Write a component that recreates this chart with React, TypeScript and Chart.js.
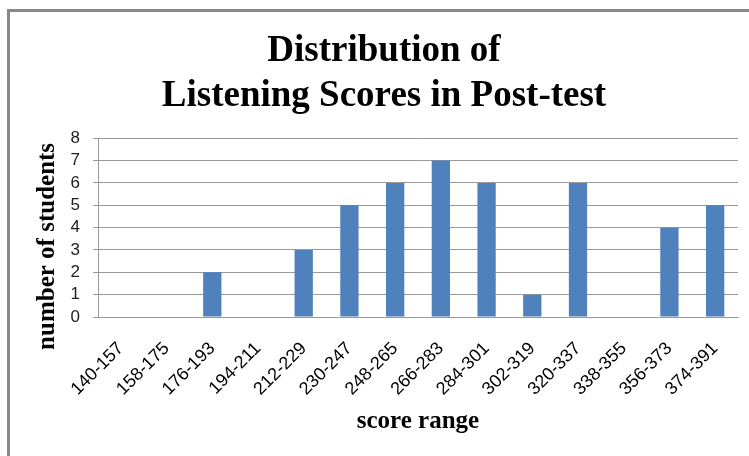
import React, { useEffect, useRef } from "react";
import { Chart, registerables } from "chart.js";

Chart.register(...registerables);

const categories = [
  "140-157", "158-175", "176-193", "194-211", "212-229", "230-247", "248-265",
  "266-283", "284-301", "302-319", "320-337", "338-355", "356-373", "374-391",
];
const students = [0, 0, 2, 0, 3, 5, 6, 7, 6, 1, 6, 0, 4, 5];
const titleLines = ["Distribution of", "Listening Scores in Post-test"];
const yTitle = "number of students";
const xTitle = "score range";

export default function App() {
  const ref = useRef<HTMLCanvasElement | null>(null);
  useEffect(() => {
    if (!ref.current) return;
    const chart = new Chart(ref.current, {
      type: "bar",
      data: {
        labels: categories,
        datasets: [
          {
            data: students,
            backgroundColor: "#4F81BD",
            borderWidth: 0,
            barPercentage: 0.4,
            categoryPercentage: 1,
          },
        ],
      },
      options: {
        animation: false,
        responsive: false,
        maintainAspectRatio: false,
        layout: { padding: { left: 30, right: 11, top: 0, bottom: 0 } },
        plugins: {
          legend: { display: false },
          tooltip: { enabled: false },
          title: {
            display: true,
            text: titleLines,
            color: "#000",
            font: { family: "'Liberation Serif', serif", size: 37, weight: "bold", lineHeight: 1.22 },
            padding: { top: 29, bottom: 19 },
          },
        },
        scales: {
          x: {
            afterFit: (s: any) => {
              s.height = 139;
              s.paddingLeft = 0;
              s.paddingRight = 0;
            },
            grid: { display: false, drawTicks: false },
            border: { color: "#999", width: 1 },
            ticks: {
              color: "#000",
              font: { family: "'Liberation Sans', sans-serif", size: 18 },
              maxRotation: 45,
              minRotation: 45,
              padding: 21,
              autoSkip: false,
            },
            title: {
              display: true,
              text: xTitle,
              color: "#000",
              font: { family: "'Liberation Serif', serif", size: 25, weight: "bold", lineHeight: 1.2 },
              padding: { top: 0, bottom: 19 },
            },
          },
          y: {
            afterFit: (s: any) => {
              s.width = 68;
            },
            min: 0,
            max: 8,
            grid: { color: "#999", tickLength: 5 },
            border: { color: "#999", width: 1 },
            ticks: {
              stepSize: 1,
              autoSkip: false,
              color: "#222",
              font: { family: "'Liberation Sans', sans-serif", size: 17 },
              padding: 13,
            },
            title: {
              display: true,
              text: yTitle + "      ",
              color: "#000",
              font: { family: "'Liberation Serif', serif", size: 25, weight: "bold", lineHeight: 1.2 },
              padding: { top: 3, bottom: 0 },
            },
          },
        },
      },
    });
    return () => chart.destroy();
  }, []);
  return (
    <div style={{ position: "fixed", left: 0, top: 0, width: 749, height: 456, background: "#fff" }}>
      <div
        style={{
          position: "absolute",
          left: 7,
          top: 9,
          width: 760,
          height: 460,
          borderTop: "3px solid #888",
          borderLeft: "3px solid #888",
        }}
      />
      <canvas ref={ref} width={749} height={456} style={{ position: "absolute", left: 0, top: 0 }} />
    </div>
  );
}
